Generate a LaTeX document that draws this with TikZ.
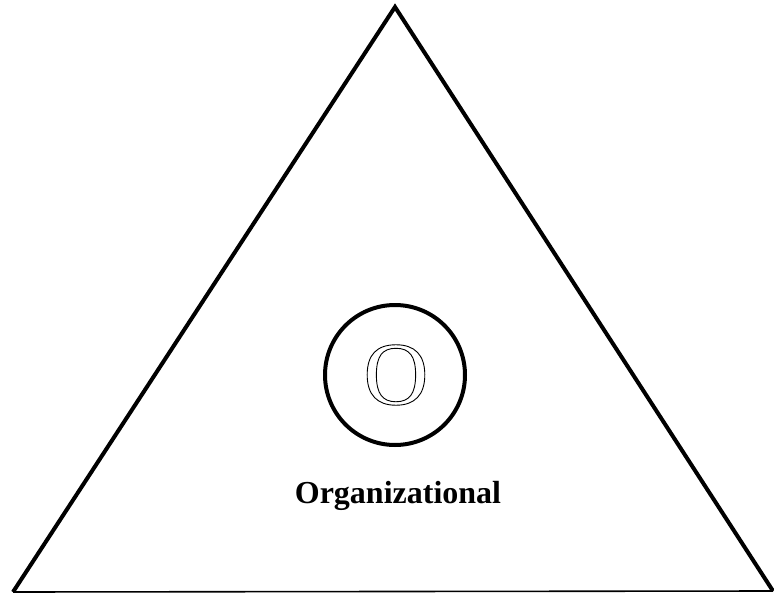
\documentclass[tikz,border=0pt]{standalone}
\usepackage{fontspec}
\setmainfont{Liberation Serif}
% outlined glyphs via PDF text render mode 1 (stroke only)
\newcommand{\outlined}[1]{\special{pdf:literal direct 1 Tr 0.9 w}#1\special{pdf:literal direct 0 Tr}}
\begin{document}
\begin{tikzpicture}[x=1pt,y=-1pt,
  edge/.style={line width=4pt,line join=miter},
  baseedge/.style={line width=1.6pt},
  ring/.style={circle,draw,line width=4pt,minimum size=140pt,inner sep=0pt},
  letter/.style={inner sep=0pt,font=\fontsize{90}{90}\selectfont},
  label/.style={inner sep=0pt,anchor=base,font=\fontsize{32}{36}\selectfont\bfseries}]
  \useasboundingbox (0,0) rectangle (774,594);
  \coordinate (apex) at (395,7);
  \coordinate (bl) at (13,592);
  \coordinate (br) at (773,591);
  \draw[edge] (bl) -- (apex) -- (br);
  \draw[baseedge] (bl) -- (br);
  \node[ring] (ring) at (395,375) {};
  \node[letter] (glyph) at (396,375) {\outlined{O}};
  \node[label] (name) at (398,503) {Organizational};
\end{tikzpicture}
\end{document}
